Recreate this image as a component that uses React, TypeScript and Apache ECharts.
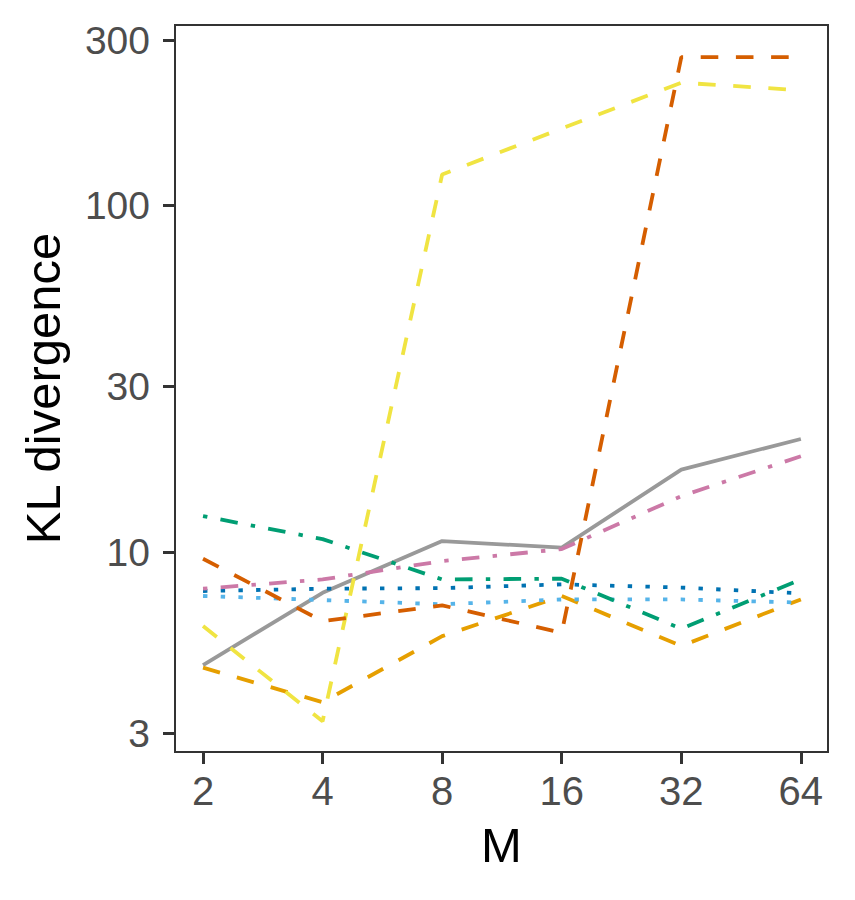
import React, { useEffect, useRef } from "react";
import * as echarts from "echarts";

const mValues = [2, 4, 8, 16, 32, 64];
const yTicks = [3, 10, 30, 100, 300];

const greySolid = [4.72, 7.63, 10.76, 10.3, 17.3, 21.2];
const orangeDashed = [4.64, 3.69, 5.72, 7.47, 5.36, 7.3];
const skyDotted = [7.47, 7.27, 7.07, 7.3, 7.3, 7.15];
const greenDotDash = [12.7, 10.9, 8.34, 8.38, 6.01, 8.34];
const yellowDashed = [6.12, 3.25, 122.9, 166.7, 226, 215];
const blueDotted = [7.72, 7.84, 7.87, 8.07, 7.9, 7.6];
const redDashed = [9.57, 6.32, 7.02, 5.85, 268, 268];
const pinkDotDash = [7.84, 8.34, 9.42, 10.2, 14.5, 18.9];

const DASHED = [17.6, 17.6];
const DOTTED = [4.4, 13.3];
const DOTDASH = [4.4, 13.3, 17.6, 13.3];

const seriesDefs = [
  { name: "grey", color: "#999999", values: greySolid, dash: "solid" as any },
  { name: "orange", color: "#E69F00", values: orangeDashed, dash: DASHED },
  { name: "sky", color: "#56B4E9", values: skyDotted, dash: DOTTED },
  { name: "green", color: "#009E73", values: greenDotDash, dash: DOTDASH },
  { name: "yellow", color: "#F0E442", values: yellowDashed, dash: DASHED },
  { name: "blue", color: "#0072B2", values: blueDotted, dash: DOTTED },
  { name: "vermillion", color: "#D55E00", values: redDashed, dash: DASHED },
  { name: "pink", color: "#CC79A7", values: pinkDotDash, dash: DOTDASH },
];

export default function App() {
  const ref = useRef<HTMLDivElement>(null);
  useEffect(() => {
    document.body.style.margin = "0";
    if (!ref.current) return;
    const chart = echarts.init(ref.current, undefined, { renderer: "svg" });
    const font = "'Liberation Sans', Arial, Helvetica, sans-serif";
    chart.setOption({
      animation: false,
      backgroundColor: "#ffffff",
      grid: {
        left: 175,
        right: 27,
        top: 25,
        bottom: 148,
        show: true,
        borderColor: "#333333",
        borderWidth: 2,
        backgroundColor: "transparent",
      },
      xAxis: {
        type: "log",
        logBase: 2,
        min: 1.7,
        max: 74.9,
        name: "M",
        nameLocation: "middle",
        nameGap: 68,
        nameTextStyle: { fontFamily: font, fontSize: 49, color: "#000000" },
        axisLine: { show: false },
        splitLine: { show: false },
        minorSplitLine: { show: false },
        axisTick: {
          show: true,
          length: 12,
          customValues: mValues,
          lineStyle: { color: "#333333", width: 3 },
        },
        axisLabel: {
          customValues: mValues,
          margin: 19,
          fontFamily: font,
          fontSize: 40,
          color: "#4D4D4D",
          formatter: (v: number) => String(Math.round(v)),
        },
      },
      yAxis: {
        type: "log",
        logBase: 10,
        min: 2.65,
        max: 331.6,
        name: "KL divergence",
        nameLocation: "middle",
        nameGap: 108,
        nameRotate: 90,
        nameTextStyle: { fontFamily: font, fontSize: 49, color: "#000000" },
        axisLine: { show: false },
        splitLine: { show: false },
        minorSplitLine: { show: false },
        axisTick: {
          show: true,
          length: 12,
          customValues: yTicks,
          lineStyle: { color: "#333333", width: 3 },
        },
        axisLabel: {
          customValues: yTicks,
          margin: 25,
          fontFamily: font,
          fontSize: 39,
          color: "#4D4D4D",
          formatter: (v: number) => String(Math.round(v)),
        },
      },
      series: seriesDefs.map((s) => ({
        name: s.name,
        type: "line",
        data: mValues.map((m, i) => [m, s.values[i]]),
        showSymbol: false,
        symbol: "none",
        lineStyle: { color: s.color, width: 3.8, type: s.dash, cap: "butt" },
        itemStyle: { color: s.color },
      })),
    });
    return () => chart.dispose();
  }, []);
  return <div ref={ref} style={{ width: 855, height: 900 }} />;
}
